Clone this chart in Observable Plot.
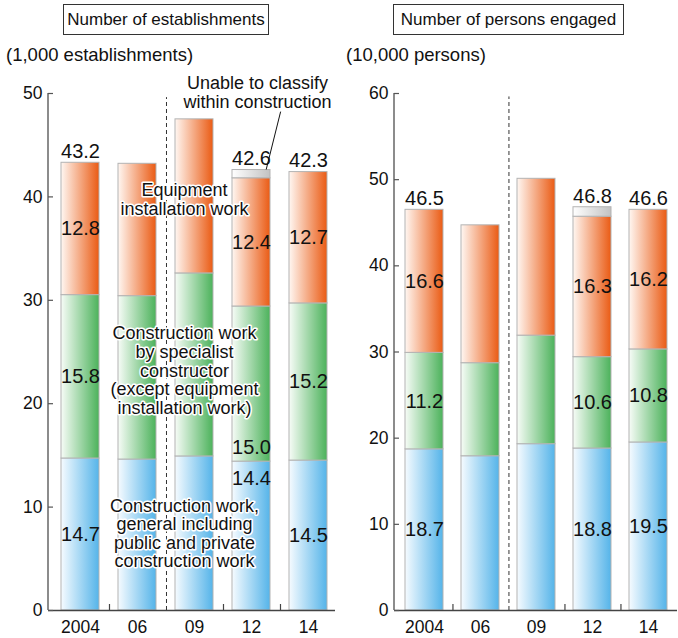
<!DOCTYPE html>
<html><head><meta charset="utf-8">
<script src="https://cdn.jsdelivr.net/npm/d3@7"></script>
<script src="https://cdn.jsdelivr.net/npm/@observablehq/plot@0.6"></script>
<style>
body{margin:0;background:#fff;}
#wrap{position:relative;width:678px;height:638px;font-family:'Liberation Sans',Arial,sans-serif;color:#111;overflow:hidden;}
.box{position:absolute;top:4px;height:31px;border:1px solid #333;box-sizing:border-box;font-size:17px;line-height:29px;text-align:center;white-space:nowrap;}
.unit{position:absolute;top:45px;font-size:18.5px;line-height:20px;white-space:nowrap;}
.panel{position:absolute;top:0;}
</style></head><body>
<div id="wrap">
  <div class="panel" id="left" style="left:0"></div>
  <div class="panel" id="right" style="left:339px"></div>
  <div class="box" id="t1" style="left:63px;width:206px"></div>
  <div class="box" id="t2" style="left:393px;width:231px"></div>
  <div class="unit" id="u1" style="left:6px"></div>
  <div class="unit" id="u2" style="left:346px"></div>
</div>
<script>
// ---------- data ----------
const years = ["2004", "06", "09", "12", "14"];
const labeledYears = ["2004", "12", "14"];

// Number of establishments (1,000 establishments)
const estGeneral      = [14.7, 14.6, 14.9, 14.4, 14.5];
const estSpecialist   = [15.8, 15.8, 17.7, 15.0, 15.2];
const estEquipment    = [12.8, 12.8, 14.9, 12.4, 12.7];
const estUnclassified = [0, 0, 0, 0.8, 0];
const estTotals       = [43.2, null, null, 42.6, 42.3];
const estTicks        = [0, 10, 20, 30, 40, 50];

// Number of persons engaged (10,000 persons)
const perGeneral      = [18.7, 17.9, 19.3, 18.8, 19.5];
const perSpecialist   = [11.2, 10.8, 12.6, 10.6, 10.8];
const perEquipment    = [16.6, 16.0, 18.2, 16.3, 16.2];
const perUnclassified = [0, 0, 0, 1.1, 0];
const perTotals       = [46.5, null, null, 46.8, 46.6];
const perTicks        = [0, 10, 20, 30, 40, 50, 60];

const titles = ["Number of establishments", "Number of persons engaged"];
const units = ["(1,000 establishments)", "(10,000 persons)"];
const noteEquipment = "Equipment\ninstallation work";
const noteSpecialist = "Construction work\nby specialist\nconstructor\n(except equipment\ninstallation work)";
const noteGeneral = "Construction work,\ngeneral including\npublic and private\nconstruction work";
const noteUnclassified = "Unable to classify\nwithin construction";

// ---------- styling ----------
const palette = {
  general:      ["#f6fbff", "#55b4e9"],
  specialist:   ["#f7fcf7", "#4cb25b"],
  equipment:    ["#fff7f2", "#ea5b14"],
  unclassified: ["#ffffff", "#c2c2c2"]
};
const fontMain = "'Liberation Sans', Arial, Helvetica, sans-serif";
const fontNum = "'Liberation Sans Narrow', 'Liberation Sans', Arial, sans-serif";

document.getElementById("t1").textContent = titles[0];
document.getElementById("t2").textContent = titles[1];
document.getElementById("u1").textContent = units[0];
document.getElementById("u2").textContent = units[1];

function makePanel(cfg) {
  const series = [
    {key: "general", values: cfg.general},
    {key: "specialist", values: cfg.specialist},
    {key: "equipment", values: cfg.equipment},
    {key: "unclassified", values: cfg.unclassified}
  ];
  const rows = [];
  years.forEach((yr, i) => series.forEach(s => {
    const v = s.values[i];
    if (v > 0) rows.push({year: yr, cat: s.key, value: v, fill: `url(#${cfg.id}-${s.key})`});
  }));
  const totals = years.map((yr, i) => ({year: yr, total: cfg.totals[i], top: d3.sum(series, s => s.values[i])}))
    .filter(d => d.total != null);

  const width = 339, height = 638, mt = 93, mb = 28;
  const pIn = 0.33, pOut = 0.2;
  const step = (cfg.xRange[1] - cfg.xRange[0]) / (years.length - pIn + 2 * pOut);
  const ppu = (height - mt - mb) / cfg.max;
  const tickLen = 6 / ppu;
  const frameW = width - cfg.ml - cfg.mr;
  const special = cfg.special || [];
  const isSpecial = d => special.some(s => s.year === d.year && s.cat === d.cat);
  const showLabel = d => labeledYears.includes(d.year) && d.cat !== "unclassified" && !isSpecial(d);

  const defs = () => {
    const g = d3.create("svg:defs");
    for (const s of series) {
      const lg = g.append("linearGradient").attr("id", `${cfg.id}-${s.key}`)
        .attr("x1", 0).attr("x2", 1).attr("y1", 0).attr("y2", 0);
      lg.append("stop").attr("offset", 0).attr("stop-color", palette[s.key][0]);
      lg.append("stop").attr("offset", 1).attr("stop-color", palette[s.key][1]);
    }
    return g.node();
  };
  const yAxisLine = (index, scales) => {
    const x0 = cfg.ml;
    return d3.create("svg:line").attr("x1", x0).attr("x2", x0)
      .attr("y1", scales.y(cfg.max)).attr("y2", scales.y(0))
      .attr("stroke", "#666").attr("stroke-width", 1.5).node();
  };

  const marks = [
    defs,
    Plot.barY(rows, {x: "year", y: "value", fill: "fill", stroke: "#b3b3b3", strokeWidth: 1}),
    Plot.ruleY([0], {stroke: "#444", strokeWidth: 1.5}),
    yAxisLine,
    Plot.tickY(cfg.ticks, {y: d => d, insetRight: frameW - 5, stroke: "#555", strokeWidth: 1.2}),
    Plot.ruleX(["2004", "09", "12"], {x: d => d, dx: step / 2, y1: 0, y2: tickLen, stroke: "#444", strokeWidth: 1.2}),
    Plot.ruleX(["06"], {x: d => d, dx: step / 2, y1: 0, y2: cfg.max - 0.4, stroke: "#333", strokeWidth: 1, strokeDasharray: "4,3"}),
    Plot.axisY({ticks: cfg.ticks, tickSize: 0, tickPadding: 6, label: null, fontSize: 17.5}),
    Plot.axisX({tickSize: 0, tickPadding: 10, label: null, fontSize: 17.5}),
    Plot.text(rows, Plot.stackY({x: "year", y: "value", text: d => showLabel(d) ? d.value.toFixed(1) : null,
      fontFamily: fontNum, fontSize: 20, fill: "#111"})),
    Plot.text(totals, {x: "year", y: "top", text: d => d.total.toFixed(1), dy: -11,
      fontFamily: fontNum, fontSize: 20, fill: "#111"})
  ];
  for (const s of special) {
    const st = s.anchor === "top" ? Plot.stackY2 : Plot.stackY1;
    marks.push(Plot.text(rows, st({x: "year", y: "value",
      text: d => (d.year === s.year && d.cat === s.cat) ? d.value.toFixed(1) : null,
      dy: s.dy, fontFamily: fontNum, fontSize: 20, fill: "#111"})));
  }
  if (cfg.notes) {
    for (const n of cfg.notes) {
      marks.push(Plot.text([n], {x: () => n.year, y: () => n.y, text: () => n.text, dx: n.dx,
        fontFamily: fontMain, fontSize: 18, lineHeight: 1.03, fill: "#111",
        stroke: "white", strokeWidth: 3}));
    }
  }
  if (cfg.leader) {
    const L = cfg.leader;
    marks.push((index, scales) => {
      const bwRaw = scales.x.bandwidth;
      const bw = typeof bwRaw === "function" ? bwRaw() : bwRaw;
      const x0 = scales.x(L.year);
      return d3.create("svg:line")
        .attr("x1", x0 + bw * L.f1).attr("y1", scales.y(L.y1))
        .attr("x2", x0 + bw * L.f2).attr("y2", scales.y(L.y2))
        .attr("stroke", "#111").attr("stroke-width", 1).node();
    });
  }

  const chart = Plot.plot({
    width, height,
    marginTop: mt, marginBottom: mb, marginLeft: cfg.ml, marginRight: cfg.mr,
    style: {fontFamily: fontMain, fontSize: "17.5px", color: "#111", background: "transparent", overflow: "visible"},
    x: {type: "band", domain: years, range: cfg.xRange, paddingInner: pIn, paddingOuter: pOut},
    y: {domain: [0, cfg.max]},
    color: {type: "identity"},
    marks
  });
  document.getElementById(cfg.id).appendChild(chart);
}

makePanel({
  id: "left", general: estGeneral, specialist: estSpecialist, equipment: estEquipment,
  unclassified: estUnclassified, totals: estTotals, ticks: estTicks, max: 50,
  ml: 48, mr: 4, xRange: [47.5, 341.5],
  special: [{year: "12", cat: "general", anchor: "top", dy: 17}, {year: "12", cat: "specialist", anchor: "bottom", dy: -14}],
  notes: [
    {year: "09", y: 39.75, dx: -10, text: noteEquipment},
    {year: "09", y: 23.2, dx: -10, text: noteSpecialist},
    {year: "09", y: 7.45, dx: -10, text: noteGeneral},
    {year: "12", y: 50.1, dx: 6, text: noteUnclassified}
  ],
  leader: {year: "12", f1: 0.9, y1: 42.6, f2: 1.28, y2: 48.2}
});

makePanel({
  id: "right", general: perGeneral, specialist: perSpecialist, equipment: perEquipment,
  unclassified: perUnclassified, totals: perTotals, ticks: perTicks, max: 60,
  ml: 55, mr: 1, xRange: [53, 341.5]
});
</script>
</body></html>
